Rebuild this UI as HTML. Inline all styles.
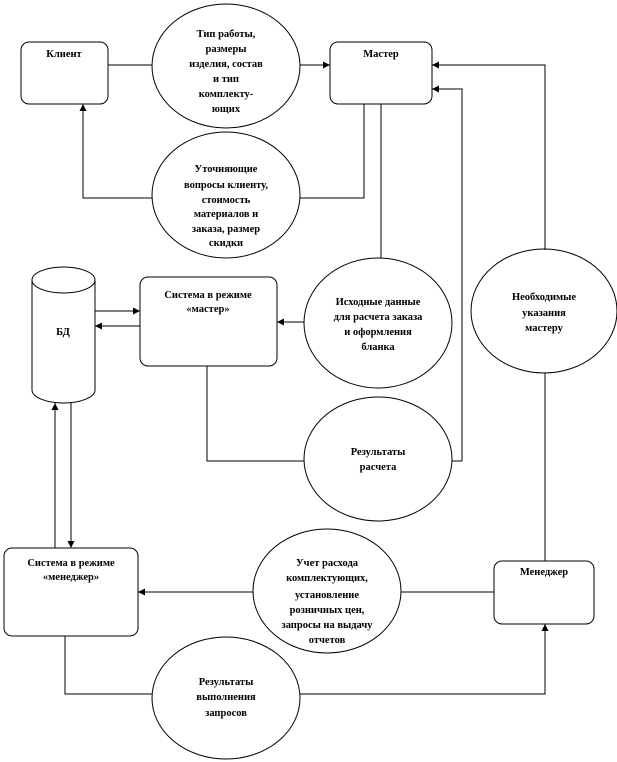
<!DOCTYPE html>
<html><head><meta charset="utf-8"><style>
html,body{margin:0;padding:0;background:#fff;}
svg{display:block;}
text{font-family:"Liberation Serif","DejaVu Serif",serif;font-weight:bold;font-size:10.5px;fill:#000;text-anchor:middle;}
</style></head><body>
<svg width="617" height="762" viewBox="0 0 617 762" xmlns="http://www.w3.org/2000/svg">
<defs><marker id="a" markerWidth="8" markerHeight="8" refX="7" refY="4" orient="auto" markerUnits="userSpaceOnUse"><path d="M0,0.5 L7,4 L0,7.5 Z" fill="#000"/></marker></defs>
<g fill="none" stroke="#000" stroke-width="1">
<!-- boxes -->
<rect x="21" y="42" width="87" height="62" rx="8"/>
<rect x="330" y="42" width="102" height="62" rx="8"/>
<rect x="140" y="277" width="137" height="89" rx="8"/>
<rect x="4" y="548" width="134" height="88" rx="8"/>
<rect x="494" y="561" width="100" height="63" rx="8"/>
<!-- cylinder -->
<path d="M32,280 L32,390 A31.5,13 0 0 0 95,390 L95,280"/>
<ellipse cx="63.5" cy="280" rx="31.5" ry="13"/>
<!-- circles -->
<ellipse cx="226" cy="66" rx="74" ry="62"/>
<ellipse cx="226" cy="195" rx="74" ry="63"/>
<ellipse cx="378" cy="323" rx="74" ry="65"/>
<ellipse cx="544" cy="311" rx="73" ry="62"/>
<ellipse cx="378" cy="459" rx="74" ry="62"/>
<ellipse cx="327" cy="591" rx="74" ry="62"/>
<ellipse cx="226" cy="698" rx="74" ry="61"/>
<!-- connectors -->
<path d="M108,65 H152"/>
<path d="M300,65 H330" marker-end="url(#a)"/>
<path d="M152,198 H83 V104" marker-end="url(#a)"/>
<path d="M300,198 H364 V104"/>
<path d="M381,104 V258"/>
<path d="M545,250 V65 H432" marker-end="url(#a)"/>
<path d="M452,461 H462 V89 H432" marker-end="url(#a)"/>
<path d="M304,322 H277" marker-end="url(#a)"/>
<path d="M95,311 H140" marker-end="url(#a)"/>
<path d="M140,326 H95" marker-end="url(#a)"/>
<path d="M207,366 V461 H304"/>
<path d="M55,548 V403" marker-end="url(#a)"/>
<path d="M71,403 V548" marker-end="url(#a)"/>
<path d="M253,592 H138" marker-end="url(#a)"/>
<path d="M401,592 H494"/>
<path d="M545,373 V561"/>
<path d="M65,636 V694 H152"/>
<path d="M300,694 H545 V624" marker-end="url(#a)"/>
</g>
<text x="64" y="57">Клиент</text>
<text x="381" y="57">Мастер</text>
<text x="226" y="37">Тип работы,</text>
<text x="226" y="52">размеры</text>
<text x="226" y="67">изделия,  состав</text>
<text x="226" y="82">и тип</text>
<text x="226" y="97">комплекту-</text>
<text x="226" y="112">ющих</text>
<text x="226" y="172">Уточняющие</text>
<text x="226" y="188">вопросы клиенту,</text>
<text x="226" y="203">стоимость</text>
<text x="226" y="217">материалов и</text>
<text x="226" y="232">заказа, размер</text>
<text x="226" y="246">скидки</text>
<text x="208" y="298">Система в режиме</text>
<text x="208" y="312">«мастер»</text>
<text x="63" y="335">БД</text>
<text x="378" y="305">Исходные  данные</text>
<text x="378" y="320">для расчета заказа</text>
<text x="378" y="335">и оформления</text>
<text x="378" y="350">бланка</text>
<text x="544" y="300">Необходимые</text>
<text x="544" y="316">указания</text>
<text x="544" y="331">мастеру</text>
<text x="378" y="455">Результаты</text>
<text x="378" y="470">расчета</text>
<text x="71" y="566">Система в режиме</text>
<text x="71" y="580">«менеджер»</text>
<text x="544" y="575">Менеджер</text>
<text x="327" y="566">Учет расхода</text>
<text x="327" y="581">комплектующих,</text>
<text x="327" y="598">установление</text>
<text x="327" y="613">розничных  цен,</text>
<text x="327" y="628">запросы на выдачу</text>
<text x="327" y="643">отчетов</text>
<text x="226" y="685">Результаты</text>
<text x="226" y="700">выполнения</text>
<text x="226" y="716">запросов</text>
</svg>
</body></html>
